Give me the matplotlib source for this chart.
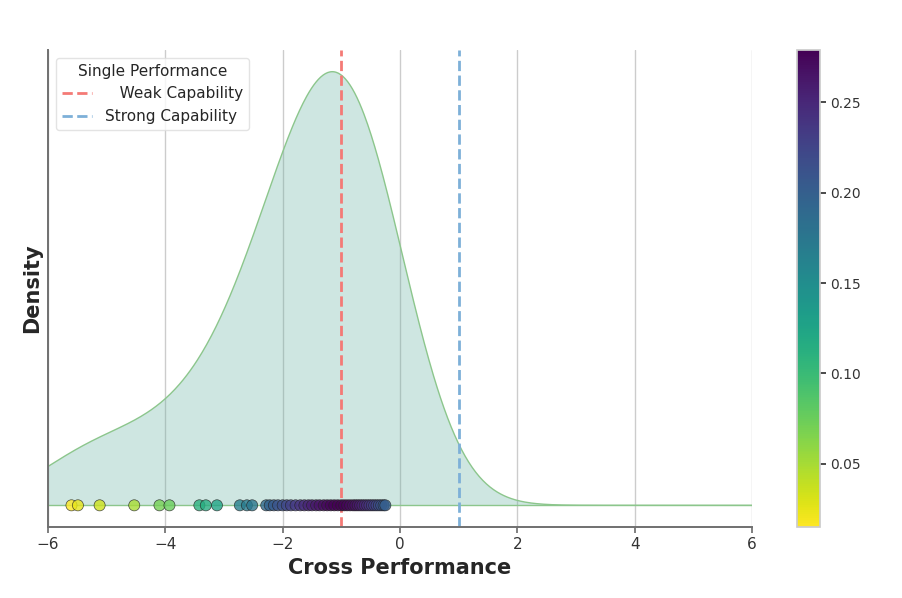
import numpy as np
import matplotlib
matplotlib.use("Agg")
import matplotlib.pyplot as plt
import matplotlib.cm as cm
import matplotlib.colors as mcolors
import seaborn as sns

# ---- data ----
tail_scores = [-5.60, -5.49, -5.12, -4.53, -4.10, -3.93, -3.42, -3.31, -3.12,
               -2.73, -2.61, -2.52]
tail_colors = [0.015, 0.025, 0.035, 0.050, 0.070, 0.075, 0.110, 0.115, 0.125,
               0.165, 0.170, 0.175]
cluster_scores = [-2.28, -2.22, -2.15, -2.08, -2.00, -1.93, -1.86, -1.78, -1.70,
                  -1.63, -1.56, -1.50, -1.43, -1.37, -1.30, -1.24, -1.18, -1.12,
                  -1.06, -1.00, -0.95, -0.90, -0.85, -0.80, -0.76, -0.72, -0.68,
                  -0.64, -0.60, -0.56, -0.52, -0.48, -0.44, -0.40, -0.36, -0.32,
                  -0.28, -0.25]
cluster_colors = [0.190, 0.197, 0.204, 0.210, 0.216, 0.222, 0.228, 0.234, 0.240,
                  0.246, 0.251, 0.256, 0.261, 0.265, 0.269, 0.272, 0.275, 0.277,
                  0.279, 0.278, 0.277, 0.275, 0.272, 0.269, 0.266, 0.262, 0.258,
                  0.254, 0.249, 0.244, 0.239, 0.234, 0.229, 0.224, 0.218, 0.212,
                  0.206, 0.200]
weak_capability = -1.0
strong_capability = 1.0
x_ticks = [-6, -4, -2, 0, 2, 4, 6]

scores = np.array(tail_scores + cluster_scores)
colors = np.array(tail_colors + cluster_colors)


def gauss_kde(data, grid, bw):
    u = (grid[:, None] - data[None, :]) / bw
    return np.exp(-0.5 * u ** 2).sum(axis=1) / (len(data) * bw * np.sqrt(2 * np.pi))


scott = scores.std(ddof=1) * len(scores) ** (-1 / 5)
bw_curve = scott * 1.4

grid = np.linspace(-7, 7, 700)
dens = gauss_kde(scores, grid, bw_curve)

sns.set_theme(style="whitegrid")
plt.rcParams['font.family'] = ['DejaVu Sans']

fig = plt.figure(figsize=(9.02, 5.98), dpi=100)
ax = fig.add_axes([48 / 902, 71 / 598, 704 / 902, 477 / 598])
cax = fig.add_axes([797 / 902, 71 / 598, 23 / 902, 477 / 598])

ax.fill_between(grid, dens, 0, facecolor="#69b3a2", alpha=0.32, edgecolor="none")
ax.plot(grid, dens, color="#8cc68c", lw=1.0)
ax.axhline(0, color="#8cc68c", lw=1.0)

norm = mcolors.Normalize(vmin=colors.min(), vmax=colors.max())
sc = ax.scatter(scores, np.zeros_like(scores), c=colors, cmap="viridis_r", norm=norm,
                s=64, edgecolors="#222222", linewidths=0.5, alpha=0.8, zorder=3)

ax.axvline(weak_capability, color="#f47a76", ls="--", lw=2, label="   Weak Capability")
ax.axvline(strong_capability, color="#7db0d8", ls="--", lw=2, label="Strong Capability")

ax.set_xlim(-6, 6)
ax.set_xticks(x_ticks)
ax.set_yticks([])
ax.grid(axis="x", color="#cccccc", lw=1)
ax.grid(axis="y", visible=False)
for s in ["top", "right"]:
    ax.spines[s].set_visible(False)
for s in ["left", "bottom"]:
    ax.spines[s].set_color("#707070")
    ax.spines[s].set_linewidth(1.4)
ax.tick_params(axis="x", labelsize=11, colors="#333333", bottom=True, length=4, color="#707070")
ax.set_xlabel("Cross Performance", fontsize=15, fontweight="bold", color="#262626")
ax.set_ylabel("Density", fontsize=15, fontweight="bold", color="#262626")

leg = ax.legend(title="Single Performance", loc="upper left", fontsize=11,
                title_fontsize=11, frameon=True)
leg.get_frame().set_edgecolor("#dddddd")

cb = fig.colorbar(cm.ScalarMappable(norm=norm, cmap="viridis_r"), cax=cax)
cb.outline.set_edgecolor("#cccccc")
cax.tick_params(labelsize=10, colors="#333333", right=True, length=4, color="#333333")

fig.savefig("out.png", dpi=100)
